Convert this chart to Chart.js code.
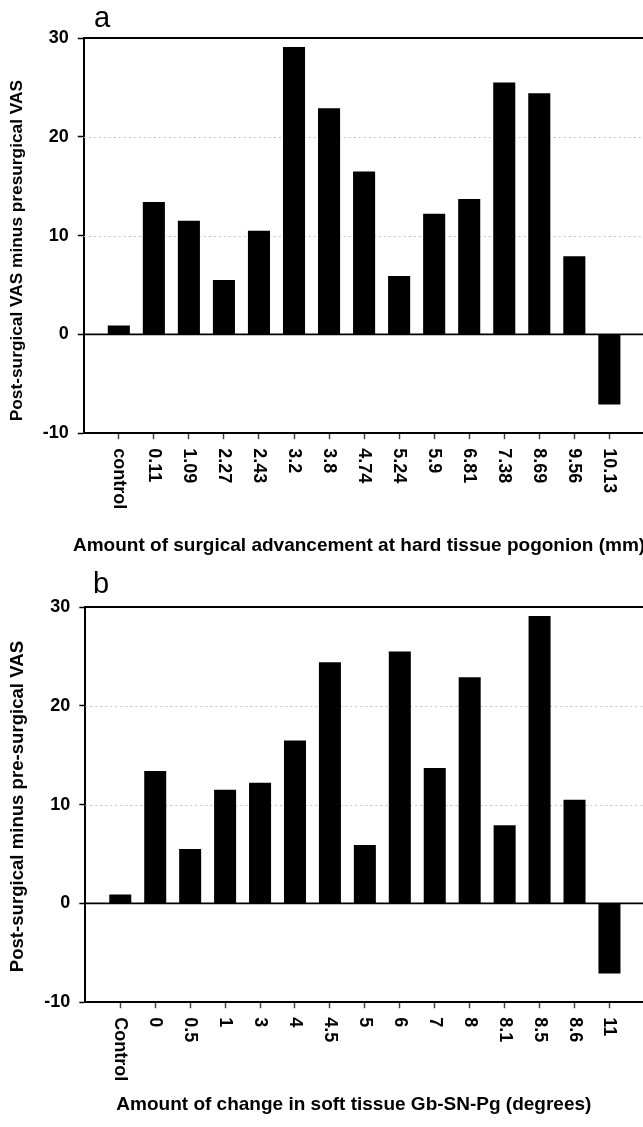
<!DOCTYPE html>
<html>
<head>
<meta charset="utf-8">
<script src="https://cdn.jsdelivr.net/npm/chart.js@4.4.1/dist/chart.umd.min.js"></script>
<style>
  html, body { margin: 0; padding: 0; background: #fff; overflow: hidden; }
  #wrap { width: 675px; }
  .panel { position: relative; width: 675px; }
</style>
</head>
<body>
<div id="wrap">
  <div class="panel" style="height:563px"><canvas id="c1"></canvas></div>
  <div class="panel" style="height:564px"><canvas id="c2"></canvas></div>
</div>
<script>
// ---- Data ----
const categoriesA = ['control','0.11','1.09','2.27','2.43','3.2','3.8','4.74','5.24','5.9','6.81','7.38','8.69','9.56','10.13'];
const valuesA = [0.9, 13.4, 11.5, 5.5, 10.5, 29.1, 22.9, 16.5, 5.9, 12.2, 13.7, 25.5, 24.4, 7.9, -7.1];

const categoriesB = ['Control','0','0.5','1','3','4','4.5','5','6','7','8','8.1','8.5','8.6','11'];
const valuesB = [0.9, 13.4, 5.5, 11.5, 12.2, 16.5, 24.4, 5.9, 25.5, 13.7, 22.9, 7.9, 29.1, 10.5, -7.1];

const yMin = -10, yMax = 30, yStep = 10;

const panelA = 'a', panelB = 'b';
const xTitleA = 'Amount of surgical advancement at hard tissue pogonion (mm)';
const yTitleA = 'Post-surgical VAS minus presurgical VAS';
const xTitleB = 'Amount of change in soft tissue Gb-SN-Pg (degrees)';
const yTitleB = 'Post-surgical minus pre-surgical VAS';

const FAMILY = '"Liberation Sans", Arial, Helvetica, sans-serif';
const TICK_LEN = 6, TICK_PAD = 9;
const X_TITLE_SIZE = 19;

// Plugin: dotted grid, zero line, top frame, rotated (clockwise) x labels, axis titles, panel letter
const decor = {
  id: 'decor',
  beforeDatasetsDraw(chart) {
    const {ctx, chartArea: a, scales: {y}} = chart;
    ctx.save();
    ctx.strokeStyle = '#c4c4c4';
    ctx.lineWidth = 1;
    ctx.setLineDash([2, 3]);
    y.ticks.forEach(t => {
      if (t.value === 0 || t.value === yMin || t.value === yMax) return;
      const py = Math.round(y.getPixelForValue(t.value)) + 0.5;
      ctx.beginPath(); ctx.moveTo(a.left, py); ctx.lineTo(a.right, py); ctx.stroke();
    });
    ctx.restore();
  },
  afterDatasetsDraw(chart) {
    const {ctx, chartArea: a, scales: {y}} = chart;
    ctx.save();
    ctx.strokeStyle = '#000';
    ctx.lineWidth = 1.6;
    const y0 = y.getPixelForValue(0);
    ctx.beginPath(); ctx.moveTo(a.left, y0); ctx.lineTo(a.right, y0); ctx.stroke();
    ctx.lineWidth = 2;
    const yt = y.getPixelForValue(yMax);
    ctx.beginPath(); ctx.moveTo(a.left, yt); ctx.lineTo(a.right, yt); ctx.stroke();
    ctx.restore();
  },
  afterDraw(chart, args, opts) {
    const {ctx, chartArea: a, scales: {x, y}} = chart;
    ctx.save();
    ctx.fillStyle = '#000';
    ctx.font = 'bold 18px ' + FAMILY;
    ctx.textAlign = 'left';
    ctx.textBaseline = 'middle';
    const labels = chart.data.labels;
    x.ticks.forEach((t, i) => {
      const lab = labels[t.value];
      if (!lab) return;
      const px = x.getPixelForTick(i);
      const py = x.top + TICK_LEN + TICK_PAD;
      ctx.save();
      ctx.translate(px, py);
      ctx.rotate(Math.PI / 2);
      ctx.fillText(lab, 0, 0);
      ctx.restore();
    });
    // x title
    ctx.font = 'bold ' + X_TITLE_SIZE + 'px ' + FAMILY;
    ctx.textAlign = 'center';
    ctx.fillText(opts.xText, (a.left + a.right) / 2 + opts.xShift,
                 x.bottom - opts.xPadBottom - X_TITLE_SIZE * 0.6);
    // y title (rotated counter-clockwise)
    ctx.font = 'bold ' + opts.ySize + 'px ' + FAMILY;
    ctx.save();
    ctx.translate(y.left + opts.yPadTop + opts.ySize * 0.6, (a.top + a.bottom) / 2 + opts.yShift);
    ctx.rotate(-Math.PI / 2);
    ctx.fillText(opts.yText, 0, 0);
    ctx.restore();
    // panel letter
    ctx.font = '29px ' + FAMILY;
    ctx.textAlign = 'left';
    ctx.textBaseline = 'alphabetic';
    ctx.fillText(opts.letter, opts.lx, opts.ly);
    ctx.restore();
  }
};

function makeChart(id, cats, vals, xTitle, yTitle, pad, deco) {
  const labels = [''].concat(cats).concat(['']);
  const data = [null].concat(vals).concat([null]);
  deco.yText = yTitle.text;
  deco.ySize = yTitle.size;
  deco.yPadTop = 7;
  deco.xText = xTitle.text;
  deco.xPadBottom = xTitle.padding.bottom;
  return new Chart(document.getElementById(id), {
    type: 'bar',
    data: {
      labels: labels,
      datasets: [{
        data: data,
        backgroundColor: '#000',
        borderWidth: 0,
        categoryPercentage: 1,
        barPercentage: 0.63
      }]
    },
    options: {
      responsive: true,
      maintainAspectRatio: false,
      animation: false,
      devicePixelRatio: 1,
      layout: { padding: pad },
      plugins: {
        legend: { display: false },
        tooltip: { enabled: false },
        decor: deco
      },
      scales: {
        x: {
          type: 'category',
          offset: false,
          grid: {
            offset: false,
            drawOnChartArea: false,
            drawTicks: true,
            tickLength: TICK_LEN,
            tickWidth: 1.5,
            tickColor: (c) => (c.tick && labels[c.tick.value]) ? '#444' : 'rgba(0,0,0,0)'
          },
          border: { display: true, color: '#000', width: 2 },
          ticks: {
            autoSkip: false,
            minRotation: 90,
            maxRotation: 90,
            padding: TICK_PAD,
            color: 'rgba(0,0,0,0)',
            font: { family: FAMILY, size: 18, weight: 'bold' }
          },
          title: {
            display: true,
            text: xTitle.text,
            color: 'rgba(0,0,0,0)',
            font: { family: FAMILY, size: X_TITLE_SIZE, weight: 'bold' },
            padding: xTitle.padding
          }
        },
        y: {
          min: yMin,
          max: yMax,
          grid: {
            drawOnChartArea: false,
            drawTicks: true,
            tickLength: TICK_LEN,
            tickWidth: 1.5,
            tickColor: '#000'
          },
          border: { display: true, color: '#000', width: 2 },
          ticks: {
            stepSize: yStep,
            padding: TICK_PAD,
            color: '#000',
            font: { family: FAMILY, size: 18, weight: 'bold' }
          },
          title: {
            display: true,
            text: yTitle.text,
            color: 'rgba(0,0,0,0)',
            font: { family: FAMILY, size: yTitle.size, weight: 'bold' },
            padding: { top: 7, bottom: 6 }
          }
        }
      }
    },
    plugins: [decor]
  });
}

makeChart('c1', categoriesA, valuesA,
  { text: xTitleA, padding: { top: 16, bottom: 6 } },
  { text: yTitleA, size: 17.3 },
  { top: 38, left: 0, right: 0, bottom: 0 },
  { letter: panelA, lx: 94, ly: 27, yShift: 15, xShift: -5 });

makeChart('c2', categoriesB, valuesB,
  { text: xTitleB, padding: { top: 3, bottom: 11 } },
  { text: yTitleB, size: 18.6 },
  { top: 44, left: 0, right: 0, bottom: 0 },
  { letter: panelB, lx: 93, ly: 30, yShift: 2, xShift: -11 });
</script>
</body>
</html>
